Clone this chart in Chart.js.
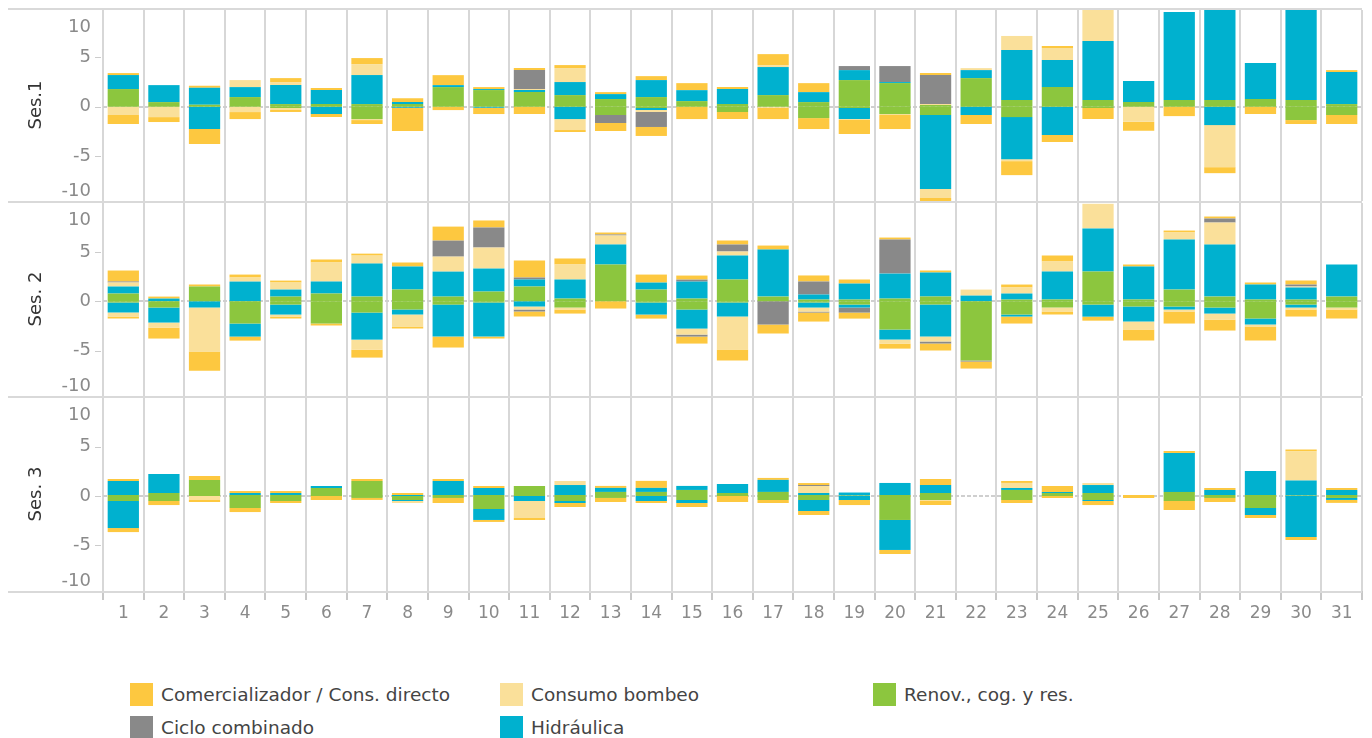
<!DOCTYPE html>
<html>
<head>
<meta charset="utf-8">
<script src="https://cdn.jsdelivr.net/npm/chart.js@4.4.1/dist/chart.umd.min.js"></script>
<style>
html,body{margin:0;padding:0;background:#fff;width:1372px;height:738px;overflow:hidden;font-family:"DejaVu Sans",sans-serif;}
canvas{position:absolute;left:0;}
.hline{position:absolute;left:8px;width:1354px;height:2px;background:#d9d9d9;z-index:5;}
.ses{position:absolute;left:35px;transform:translate(-50%,-50%) rotate(-90deg);font-size:18px;color:#333;white-space:nowrap;line-height:1;}
.sw{position:absolute;width:23px;height:23px;}
.lt{position:absolute;transform:translateY(-50%);font-size:18.5px;color:#444;white-space:nowrap;line-height:1;}
</style>
</head>
<body>
<canvas id="c1" width="1372" height="191" style="top:10px"></canvas>
<canvas id="c2" width="1372" height="193" style="top:203px"></canvas>
<canvas id="c3" width="1372" height="233" style="top:398px"></canvas>
<div class="hline" style="top:8px"></div>
<div class="hline" style="top:201px"></div>
<div class="hline" style="top:396px"></div>
<div class="hline" style="top:591px"></div>
<div class="ses" style="top:105px">Ses.1</div>
<div class="ses" style="top:299px">Ses. 2</div>
<div class="ses" style="top:494px">Ses. 3</div>
<div id="legend"></div>
<script>
// ---- categories and tick labels ----
const days = ['1','2','3','4','5','6','7','8','9','10','11','12','13','14','15','16','17','18','19','20','21','22','23','24','25','26','27','28','29','30','31'];
const yTickValues = [10, 5, 0, -5, -10];
const yTickLabels = ['10', '5', '0', '-5', '-10'];

// ---- Ses.1 ----
const s1RenovPos  = [1.79,0.47,0.2,0.98,0.27,0.27,0.27,0.27,1.99,1.69, 1.49,1.18,0.78,0.98,0.57,0.27,1.18,0.47,2.7,2.4, 0.17,2.9,0.68,1.99,0.68,0.47,0.68,0.68,0.78,0.68,0.27];
const s1RenovNeg  = [0,0,0,0,-0.13,0,-1.25,0,0,0, 0,0,-0.84,-0.13,0,-0.54,0,-1.15,-0.13,-0.74, -0.84,0,-1.05,0,-0.13,0,0,0,0,-1.35,-0.84];
const s1HidrPos   = [1.42,1.72,1.72,1.01,1.93,1.42,2.94,0.2,0.2,0.1, 0.2,1.32,0.5,1.72,1.11,1.52,2.84,1.01,1.01,0.1, 0,0.81,5.07,2.74,5.98,2.13,8.92,9.6,3.65,9.6,3.24];
const s1HidrNeg   = [0,0,-2.26,0,0,-0.74,0,-0.1,0,-0.1, 0,-1.25,0,-0.2,0,0,0,0,-1.11,0, -7.5,-0.84,-4.26,-2.87,0,0,0,-1.86,0,0,0];
const s1BombeoPos = [0,0,0,0.71,0.3,0,1.11,0,0,0, 0.1,1.42,0,0,0,0,0.2,0,0,0, 0.1,0.2,1.42,1.22,3.4,0,0,0,0,0,0];
const s1BombeoNeg = [-0.84,-1.05,0,-0.54,-0.2,0,-0.1,0,0,0, 0,-1.11,0,-0.2,0,0,-0.1,0,-0.1,-0.1, -0.91,0,-0.2,0,0,-1.52,0,-4.26,0,0,0];
const s1CicloPos  = [0,0,0,0,0,0,0,0,0,0, 1.93,0,0,0,0,0,0,0,0.41,1.62, 2.94,0,0,0,0,0,0,0,0,0,0];
const s1CicloNeg  = [0,0,0,0,0,0,0,0,0,0, 0,0,-0.81,-1.52,0,0,0,0,0,0, 0,0,0,0,0,0,0,0,0,0,0];
const s1ComercPos = [0.2,0,0.2,0,0.4,0.2,0.61,0.4,1.01,0.2, 0.2,0.3,0.2,0.4,0.71,0.2,1.11,0.91,0,0, 0.2,0,0,0.2,0,0,0,0,0,0,0.2];
const s1ComercNeg = [-0.91,-0.5,-1.52,-0.71,-0.2,-0.3,-0.4,-2.36,-0.34,-0.64, -0.74,-0.2,-0.81,-0.91,-1.25,-0.71,-1.15,-1.11,-1.42,-1.42, -0.6,-0.91,-1.42,-0.71,-1.11,-0.91,-0.95,-0.61,-0.74,-0.4,-0.91];

// ---- Ses. 2 ----
const s2RenovPos  = [0.78,0,1.49,0,0.47,0.78,0.47,1.18,0.47,0.98, 1.49,0.27,3.72,1.18,0.27,2.2,0.47,0.17,0.17,0.27, 0.47,0,0.17,0.17,3.01,0.17,1.18,0.47,0.17,0.17,0.47];
const s2RenovNeg  = [-0.13,-0.64,0,-2.26,-0.34,-2.26,-1.15,-0.84,-0.34,-0.13, 0,-0.64,0,-0.13,-0.84,-0.13,0,-0.13,-0.34,-2.87, -0.34,-6.01,-1.35,-0.64,-0.34,-0.54,-0.54,-0.64,-1.76,-0.34,-0.64];
const s2HidrPos   = [0.71,0.27,0,1.99,0.71,1.22,3.34,2.33,2.53,2.33, 0.71,1.93,2.03,0.71,1.72,2.43,4.76,0.51,1.62,2.53, 2.43,0.57,0.61,2.84,4.36,3.34,5.07,5.27,1.52,1.22,3.24];
const s2HidrNeg   = [-1.01,-1.52,-0.64,-1.32,-1.01,0,-2.74,-0.51,-3.24,-3.45, -0.54,0,0,-1.22,-1.93,-1.42,0,-0.51,-0.3,-1.01, -3.24,0,-0.2,0,-1.22,-1.52,-0.3,-0.61,-0.61,-0.3,0];
const s2BombeoPos = [0.41,0,0,0.41,0.71,1.93,0.81,0,1.52,2.13, 0,1.52,0.91,0,0,0.41,0,0,0,0, 0,0.61,0.61,1.01,2.5,0,0.71,2.23,0,0.1,0];
const s2BombeoNeg = [-0.41,-0.51,-4.46,0,-0.2,0,-1.01,-1.22,0,0, -0.3,-0.2,0,0,-0.61,-3.34,0,-0.41,0,-0.41, -0.51,0,0,-0.41,0,-0.81,-0.2,-0.61,-0.2,-0.2,-0.2];
const s2CicloPos  = [0.1,0,0,0,0,0,0,0,1.62,2.03, 0.2,0,0.1,0,0.2,0.71,0,1.32,0,3.45, 0,0,0,0,0,0,0,0.41,0,0.2,0];
const s2CicloNeg  = [0,0,0,0,0,0,0,0,0,0, -0.2,0,0,0,-0.2,0,-2.36,-0.1,-0.51,0, -0.2,-0.1,0,0,0,0,0,0,0,0,0];
const s2ComercPos = [1.11,0.2,0.2,0.3,0.2,0.3,0.2,0.41,1.42,0.71, 1.72,0.61,0.2,0.81,0.41,0.41,0.41,0.61,0.41,0.2, 0.2,0,0.3,0.61,0,0.2,0.2,0.2,0.2,0.41,0];
const s2ComercNeg = [-0.2,-1.11,-1.93,-0.41,-0.2,-0.2,-0.81,-0.2,-1.11,-0.2, -0.51,-0.41,-0.74,-0.41,-0.71,-1.11,-0.91,-0.91,-0.61,-0.51, -0.71,-0.71,-0.71,-0.3,-0.41,-1.11,-1.22,-1.11,-1.42,-0.71,-0.91];

// ---- Ses. 3 ----
const s3RenovPos  = [0.1,0.3,1.62,0.1,0.1,0.81,1.52,0,0.1,0.1, 1.01,0.1,0.41,0.41,0.61,0.3,0.41,0.1,0.05,0.1, 0.3,0,0.61,0.3,0.3,0,0.41,0.1,0.1,0.05,0.1];
const s3RenovNeg  = [-0.51,-0.51,0,-1.22,-0.51,0,-0.2,-0.41,-0.2,-1.32, 0,-0.51,-0.2,0,-0.41,0,-0.41,-0.41,0,-2.43, -0.41,0,-0.41,0,-0.41,0,-0.51,-0.2,-1.22,0,-0.2];
const s3HidrPos   = [1.42,1.93,0,0.2,0.2,0.2,0,0.1,1.42,0.71, 0,1.01,0.41,0.41,0.41,0.91,1.22,0.2,0.3,1.22, 0.81,0,0.2,0.1,0.81,0,3.95,0.51,2.43,1.52,0.51];
const s3HidrNeg   = [-2.74,0,0,0,0,0,0,-0.1,0,-1.11, -0.51,-0.2,0,-0.51,-0.3,0,0,-1.11,-0.41,-3.04, 0,0,0,0,-0.1,0,0,0,-0.71,-4.16,-0.2];
const s3BombeoPos = [0,0,0,0,0,0,0,0,0,0, 0,0.41,0,0,0,0,0,0.71,0,0, 0,0,0.51,0,0.2,0,0,0,0,2.94,0];
const s3BombeoNeg = [0,0,-0.41,0,0,0,0,-0.2,0,0, -1.72,0,0,0,0,0,0,0,0,0, -0.1,0,0,0,0,0,0,0,0,0,0];
const s3CicloPos  = [0,0,0,0,0,0,0,0,0,0, 0,0,0,0,0,0,0,0.1,0,0, 0,0,0,0,0,0,0,0,0,0,0];
const s3CicloNeg  = [0,0,0,0,0,0,0,0,0,0, 0,0,0,0,0,0,0,0,0,0, 0,0,0,0,0,0,0,0,0,0,0];
const s3ComercPos = [0.2,0,0.41,0.2,0.2,0,0.2,0.2,0.2,0.2, 0,0,0.2,0.71,0,0,0.2,0.2,0,0, 0.61,0,0.2,0.61,0,0.1,0.2,0.2,0,0.2,0.2];
const s3ComercNeg = [-0.41,-0.41,-0.2,-0.41,-0.2,-0.41,-0.2,0,-0.51,-0.2, -0.2,-0.41,-0.41,-0.2,-0.41,-0.61,-0.3,-0.41,-0.51,-0.41, -0.41,0,-0.3,-0.2,-0.41,-0.2,-0.91,-0.41,-0.3,-0.3,-0.3];

// ---- series names / colours (stacking order from zero outwards) ----
const seriesNames  = ['Renov., cog. y res.', 'Hidráulica', 'Consumo bombeo', 'Ciclo combinado', 'Comercializador / Cons. directo'];
const seriesColors = ['#8cc63e', '#00b1cf', '#fae09a', '#898989', '#fdc840'];

const panels = [
  { id:'c1', min:-9.55, max:9.8, showX:false,
    data:[[s1RenovPos,s1RenovNeg],[s1HidrPos,s1HidrNeg],[s1BombeoPos,s1BombeoNeg],[s1CicloPos,s1CicloNeg],[s1ComercPos,s1ComercNeg]] },
  { id:'c2', min:-9.6, max:9.95, showX:false,
    data:[[s2RenovPos,s2RenovNeg],[s2HidrPos,s2HidrNeg],[s2BombeoPos,s2BombeoNeg],[s2CicloPos,s2CicloNeg],[s2ComercPos,s2ComercNeg]] },
  { id:'c3', min:-9.63, max:9.93, showX:true,
    data:[[s3RenovPos,s3RenovNeg],[s3HidrPos,s3HidrNeg],[s3BombeoPos,s3BombeoNeg],[s3CicloPos,s3CicloNeg],[s3ComercPos,s3ComercNeg]] }
];

const panelDecor = {
  id: 'panelDecor',
  beforeDatasetsDraw(chart) {
    const {ctx, chartArea: a, scales: {y}} = chart;
    const y0 = Math.round(y.getPixelForValue(0));
    ctx.save();
    ctx.strokeStyle = '#cfcfcf';
    ctx.lineWidth = 2;
    ctx.setLineDash([4, 2]);
    ctx.beginPath();
    ctx.moveTo(a.left, y0);
    ctx.lineTo(a.right, y0);
    ctx.stroke();
    ctx.restore();
  },
  afterDraw(chart) {
    const {ctx, chartArea: a, scales: {y}} = chart;
    ctx.save();
    ctx.font = '18px "DejaVu Sans"';
    ctx.fillStyle = '#8a8a8a';
    ctx.textAlign = 'right';
    ctx.textBaseline = 'middle';
    ctx.strokeStyle = '#cccccc';
    ctx.lineWidth = 1;
    yTickValues.forEach((v, i) => {
      let py = y.getPixelForValue(v);
      const inside = py >= a.top && py <= a.bottom;
      py = Math.max(a.top + 17, Math.min(a.bottom - 10, py));
      ctx.fillText(yTickLabels[i], 91, py);
      if (inside && Math.abs(v) < 10) {
        ctx.beginPath();
        ctx.moveTo(95, Math.round(py) + 0.5);
        ctx.lineTo(101, Math.round(py) + 0.5);
        ctx.stroke();
      }
    });
    ctx.restore();
  }
};

panels.forEach(p => {
  const datasets = [];
  p.data.forEach((pair, k) => {
    pair.forEach(arr => {
      datasets.push({
        label: seriesNames[k],
        data: arr,
        backgroundColor: seriesColors[k],
        borderWidth: 0,
        stack: 's',
        barPercentage: 0.77,
        categoryPercentage: 1.0
      });
    });
  });
  new Chart(document.getElementById(p.id), {
    type: 'bar',
    data: { labels: days, datasets },
    options: {
      responsive: false,
      animation: false,
      events: [],
      layout: { padding: { left: 0, right: 10, top: 0, bottom: 0 } },
      plugins: { legend: { display: false }, tooltip: { enabled: false } },
      scales: {
        x: {
          stacked: true,
          grid: { color: '#d7d7d7', lineWidth: 2, drawTicks: p.showX, tickLength: 9, tickColor: '#c8c8c8', tickWidth: 2 },
          border: { display: false },
          ticks: { display: p.showX, color: '#8a8a8a', font: { family: 'DejaVu Sans', size: 17 }, padding: 3, autoSkip: false, maxRotation: 0 },
          afterFit(s) { s.height = p.showX ? 40 : 0; }
        },
        y: {
          stacked: true,
          min: p.min,
          max: p.max,
          grid: { display: false },
          border: { display: false },
          ticks: { display: false },
          afterFit(s) { s.width = 103; }
        }
      }
    },
    plugins: [panelDecor]
  });
});

// ---- legend ----
const legendItems = [
  { name: 'Comercializador / Cons. directo', color: '#fdc840', x: 130, y: 683 },
  { name: 'Consumo bombeo', color: '#fae09a', x: 500, y: 683 },
  { name: 'Renov., cog. y res.', color: '#8cc63e', x: 873, y: 683 },
  { name: 'Ciclo combinado', color: '#898989', x: 130, y: 716 },
  { name: 'Hidráulica', color: '#00b1cf', x: 500, y: 716 }
];
const leg = document.getElementById('legend');
legendItems.forEach(it => {
  const sw = document.createElement('div');
  sw.className = 'sw';
  sw.style.left = it.x + 'px';
  sw.style.top = it.y + 'px';
  sw.style.background = it.color;
  leg.appendChild(sw);
  const t = document.createElement('div');
  t.className = 'lt';
  t.style.left = (it.x + 31) + 'px';
  t.style.top = (it.y + 11.5) + 'px';
  t.textContent = it.name;
  leg.appendChild(t);
});
</script>
</body>
</html>
